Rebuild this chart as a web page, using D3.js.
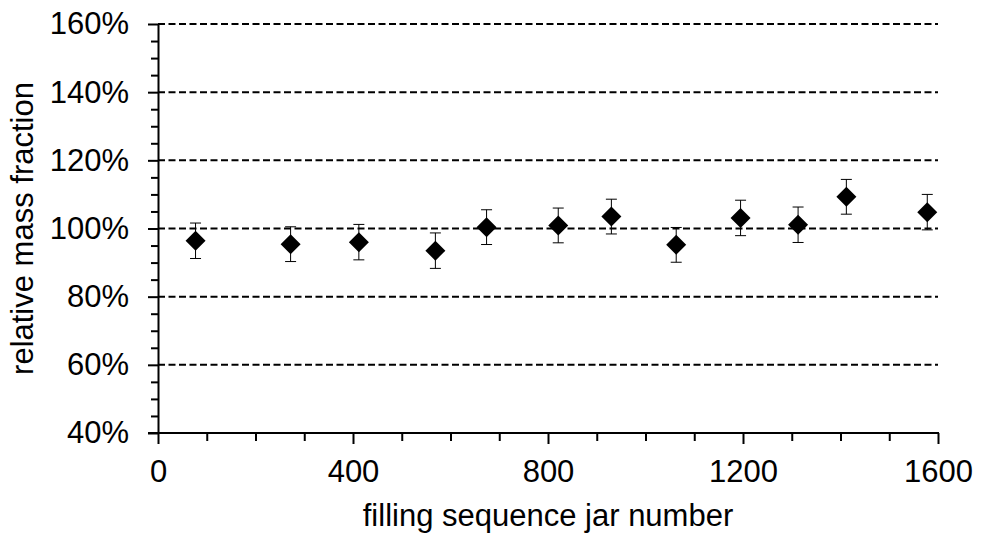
<!DOCTYPE html>
<html>
<head>
<meta charset="utf-8">
<script src="https://cdn.jsdelivr.net/npm/d3@7"></script>
<style>
  html, body { margin: 0; padding: 0; background: #fff; }
  svg { display: block; font-family: "Liberation Sans", Arial, sans-serif; }
</style>
</head>
<body>
<svg id="chart" width="985" height="552"></svg>
<script>
// Jar position in the filling sequence
const jarNumber = [77, 272, 412, 569, 674, 821, 930, 1063, 1195, 1313, 1412, 1578];
// Relative mass fraction (%)
const massFraction = [96.4, 95.4, 96.0, 93.5, 100.4, 100.9, 103.5, 95.2, 103.1, 101.1, 109.3, 104.8];
// Uncertainty (± %)
const uncertainty = [5.2, 5.1, 5.2, 5.2, 5.1, 5.1, 5.1, 5.1, 5.2, 5.2, 5.1, 5.2];

const xMajorTicks = [0, 400, 800, 1200, 1600];
const xMinorTicks = [100, 200, 300, 500, 600, 700, 900, 1000, 1100, 1300, 1400, 1500];
const yMajorTicks = [40, 60, 80, 100, 120, 140, 160];
const yMinorTicks = [45, 50, 55, 65, 70, 75, 85, 90, 95, 105, 110, 115, 125, 130, 135, 145, 150, 155];

const points = jarNumber.map((x, i) => ({ x, y: massFraction[i], e: uncertainty[i] }));

const svg = d3.select("#chart");

const x = d3.scaleLinear().domain([0, 1600]).range([158, 938]);
const y = d3.scaleLinear().domain([40, 160]).range([433, 24]);

const fontSize = 31;

// Dashed horizontal gridlines
svg.append("g")
  .selectAll("line")
  .data(yMajorTicks.filter(v => v !== 40))
  .join("line")
  .attr("x1", x(0))
  .attr("x2", x(1600))
  .attr("y1", d => y(d))
  .attr("y2", d => y(d))
  .attr("stroke", "#000")
  .attr("stroke-width", 2)
  .attr("stroke-dasharray", "7,3.5");

// Y axis: minor ticks, then major ticks with labels
svg.append("g")
  .attr("transform", `translate(${x(0)},0)`)
  .call(d3.axisLeft(y).tickValues(yMinorTicks).tickSize(7).tickFormat(""))
  .call(g => g.select(".domain").remove())
  .call(g => g.selectAll("line").attr("stroke", "#000").attr("stroke-width", 2));

const yAxis = svg.append("g")
  .attr("transform", `translate(${x(0)},0)`)
  .call(d3.axisLeft(y).tickValues(yMajorTicks).tickSize(10).tickSizeOuter(0).tickPadding(19)
    .tickFormat(d => d + "%"));
yAxis.select(".domain").attr("stroke", "#000").attr("stroke-width", 2);
yAxis.selectAll("line").attr("stroke", "#000").attr("stroke-width", 2);
yAxis.selectAll("text")
  .attr("font-size", fontSize)
  .attr("font-family", "Liberation Sans, Arial, sans-serif")
  .attr("fill", "#000");

// X axis: minor ticks, then major ticks with labels
svg.append("g")
  .attr("transform", `translate(0,${y(40)})`)
  .call(d3.axisBottom(x).tickValues(xMinorTicks).tickSize(8).tickFormat(""))
  .call(g => g.select(".domain").remove())
  .call(g => g.selectAll("line").attr("stroke", "#000").attr("stroke-width", 2));

const xAxis = svg.append("g")
  .attr("transform", `translate(0,${y(40)})`)
  .call(d3.axisBottom(x).tickValues(xMajorTicks).tickSize(11).tickSizeOuter(0).tickPadding(16)
    .tickFormat(d3.format("d")));
xAxis.select(".domain").attr("stroke", "#000").attr("stroke-width", 2)
  .attr("d", `M${x(0) - 10},0H${x(1600) + 1}`);
xAxis.selectAll("line").attr("stroke", "#000").attr("stroke-width", 2);
xAxis.selectAll("text")
  .attr("font-size", fontSize)
  .attr("font-family", "Liberation Sans, Arial, sans-serif")
  .attr("fill", "#000");

// Axis titles
svg.append("text")
  .attr("x", (x(0) + x(1600)) / 2)
  .attr("y", 526)
  .attr("text-anchor", "middle")
  .attr("font-size", fontSize)
  .attr("fill", "#000")
  .text("filling sequence jar number");

svg.append("text")
  .attr("transform", `translate(33,${(y(40) + y(160)) / 2}) rotate(-90)`)
  .attr("text-anchor", "middle")
  .attr("font-size", fontSize)
  .attr("fill", "#000")
  .text("relative mass fraction");

// Error bars
const bars = svg.append("g")
  .attr("stroke", "#000")
  .attr("stroke-width", 1)
  .selectAll("g")
  .data(points)
  .join("g");

bars.append("line")
  .attr("x1", d => x(d.x)).attr("x2", d => x(d.x))
  .attr("y1", d => y(d.y - d.e)).attr("y2", d => y(d.y + d.e));
bars.append("line")
  .attr("x1", d => x(d.x) - 5.5).attr("x2", d => x(d.x) + 5.5)
  .attr("y1", d => y(d.y + d.e)).attr("y2", d => y(d.y + d.e));
bars.append("line")
  .attr("x1", d => x(d.x) - 5.5).attr("x2", d => x(d.x) + 5.5)
  .attr("y1", d => y(d.y - d.e)).attr("y2", d => y(d.y - d.e));

// Diamond markers
const diamond = d3.symbol().type(d3.symbolSquare).size(200);
svg.append("g")
  .selectAll("path")
  .data(points)
  .join("path")
  .attr("d", diamond)
  .attr("transform", d => `translate(${x(d.x)},${y(d.y)}) rotate(45)`)
  .attr("fill", "#000");
</script>
</body>
</html>
